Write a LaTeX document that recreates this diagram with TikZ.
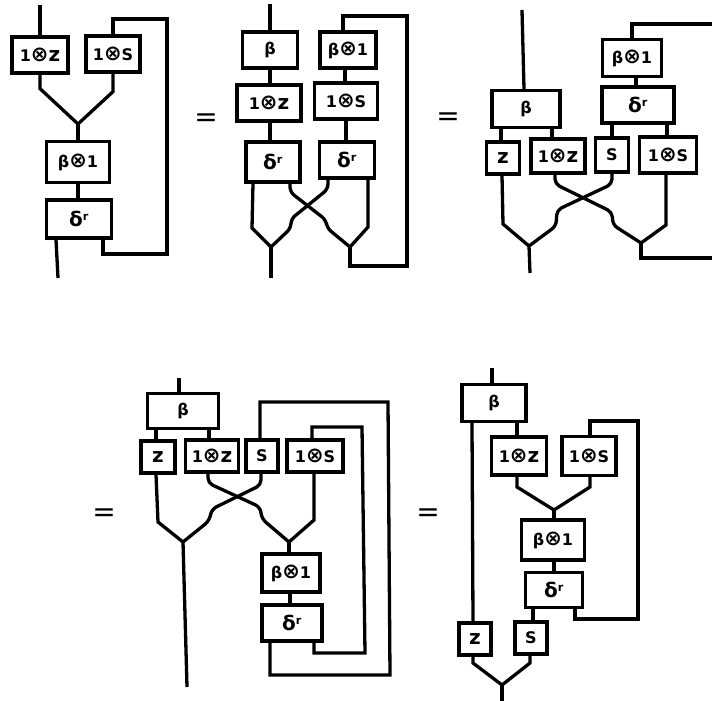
\documentclass[tikz,border=0pt]{standalone}
\usepackage{fontspec}
\setmainfont{DejaVu Sans}
\newcommand{\tens}{{\fontsize{21}{21}\selectfont ⊗}}
\newcommand{\zed}{{\fontsize{20}{20}\selectfont z}}
\newcommand{\dlt}{{\fontsize{20}{20}\selectfont δ}\textsuperscript{r}}
\begin{document}
\begin{tikzpicture}[x=1pt,y=-1pt,
    box/.style={draw, line width=3.3pt, inner sep=0pt, minimum height=36pt, font=\bfseries\fontsize{16}{16}\selectfont},
    wire/.style={line width=3.3pt},
    cross/.style={line width=3.3pt, rounded corners=5pt},
    eq/.style={inner sep=0pt, font=\fontsize{28}{28}\selectfont}]
        \useasboundingbox (0,0) rectangle (712,701);

        \node (onezA) [box, minimum width=56pt] at (40,55) {1\tens\zed};
        \node (oneSA) [box, minimum width=54pt] at (113,54) {1\tens S};
        \node (betaA) [box, minimum width=63pt, minimum height=41pt] at (78,162) {β\tens 1};
        \node (deltaA) [box, minimum width=65pt, minimum height=38pt] at (79,219) {\dlt};
        \coordinate (topA) at (40,5);
        \coordinate (botA) at (58,278);
        \coordinate (mergeA) at (78,124);
        \draw[wire] (topA) -- (onezA.north);
        \draw[wire] (onezA.south) -- ++(0,14) -- (mergeA);
        \draw[wire] (oneSA.south) -- ++(0,18) -- (mergeA);
        \draw[wire] (mergeA) -- (betaA.north);
        \draw[wire] (betaA.south) -- ([xshift=-1pt]deltaA.north);
        \draw[wire] ([xshift=-23pt]deltaA.south) -- (botA);
        \draw[wire] (oneSA.north) -- (113,19) -- (167,19) -- (167,254) -- (103,254) -- ([xshift=24pt]deltaA.south);
        \node (eqA) [eq] at (206,120) {=};

        \node (betaB) [box, minimum width=55pt] at (270,50) {β};
        \node (betatwoB) [box, minimum width=56pt] at (348,50) {β\tens 1};
        \node (onezB) [box, minimum width=64pt] at (269,103) {1\tens\zed};
        \node (oneSB) [box, minimum width=63pt] at (346,101) {1\tens S};
        \node (deltaB) [box, minimum width=54pt, minimum height=40pt] at (273,162) {\dlt};
        \node (deltatwoB) [box, minimum width=55pt] at (347,160) {\dlt};
        \coordinate (topB) at (270,4);
        \coordinate (botB) at (271,278);
        \coordinate (mergeB) at (271,247);
        \coordinate (mergetwoB) at (350,247);
        \draw[wire] (topB) -- (betaB.north);
        \draw[wire] (betaB.south) -- ([xshift=1pt]onezB.north);
        \draw[wire] ([xshift=1pt]onezB.south) -- ([xshift=-3pt]deltaB.north);
        \draw[wire] ([xshift=-3pt]betatwoB.south) -- ([xshift=-1pt]oneSB.north);
        \draw[wire] (oneSB.south) -- ([xshift=-1pt]deltatwoB.north);
        \draw[wire] ([xshift=-20pt]deltaB.south) -- (252,228) -- (mergeB);
        \draw[cross] ([xshift=17pt]deltaB.south) -- (290,192) -- (326,220) -- (327,228) -- (mergetwoB);
        \draw[cross] ([xshift=-19pt]deltatwoB.south) -- (328,189) -- (291,219) -- (291,228) -- (mergeB);
        \draw[wire] ([xshift=21pt]deltatwoB.south) -- (368,227) -- (mergetwoB);
        \draw[wire] (mergeB) -- (botB);
        \draw[wire] ([xshift=-5pt]betatwoB.north) -- (343,16) -- (407,16) -- (407,266) -- (350,266) -- (mergetwoB);
        \node (eqB) [eq] at (448,119) {=};

        \node (betaC) [box, minimum width=68pt, minimum height=37pt] at (526,109) {β};
        \node (zC) [box, minimum width=33pt, minimum height=32pt] at (503,158) {\zed};
        \node (onezC) [box, minimum width=54pt, minimum height=34pt] at (558,156) {1\tens\zed};
        \node (sC) [box, minimum width=33pt, minimum height=34pt] at (612,155) {S};
        \node (oneSC) [box, minimum width=57pt] at (668,155) {1\tens S};
        \node (betatwoC) [box, minimum width=59pt, minimum height=37pt] at (632,58) {β\tens 1};
        \node (deltaC) [box, minimum width=72pt] at (638,105) {\dlt};
        \coordinate (topC) at (522,10);
        \coordinate (botC) at (530,273);
        \coordinate (mergeC) at (529,246);
        \coordinate (mergetwoC) at (641,243);
        \coordinate (outtopC) at (712,24);
        \coordinate (outbotC) at (712,258);
        \draw[wire] (topC) -- ([xshift=-2pt]betaC.north);
        \draw[wire] ([xshift=-25pt]betaC.south) -- ([xshift=-2pt]zC.north);
        \draw[wire] ([xshift=26pt]betaC.south) -- ([xshift=-6pt]onezC.north);
        \draw[wire] ([xshift=4pt]betatwoC.south) -- ([xshift=-2pt]deltaC.north);
        \draw[wire] ([xshift=-26pt]deltaC.south) -- (sC.north);
        \draw[wire] ([xshift=29pt]deltaC.south) -- ([xshift=-1pt]oneSC.north);
        \draw[wire] ([xshift=-1pt]zC.south) -- (503,224) -- (mergeC);
        \draw[cross] ([xshift=-3pt]onezC.south) -- (555,184) -- (612,212) -- (613,225) -- (mergetwoC);
        \draw[cross] (sC.south) -- (612,184) -- (557,210) -- (556,226) -- (mergeC);
        \draw[wire] ([xshift=-2pt]oneSC.south) -- (666,225) -- (mergetwoC);
        \draw[wire] (mergeC) -- (botC);
        \draw[wire] (betatwoC.north) -- (632,24) -- (outtopC);
        \draw[wire] (mergetwoC) -- (641,258) -- (outbotC);

        \node (betaD) [box, minimum width=71pt, minimum height=35pt] at (183,411) {β};
        \node (zD) [box, minimum width=34pt, minimum height=32pt] at (158,457) {\zed};
        \node (onezD) [box, minimum width=53pt, minimum height=32pt] at (212,456) {1\tens\zed};
        \node (sD) [box, minimum width=32pt, minimum height=32pt] at (262,456) {S};
        \node (oneSD) [box, minimum width=56pt, minimum height=32pt] at (315,456) {1\tens S};
        \node (betatwoD) [box, minimum width=58pt, minimum height=38pt] at (291,573) {β\tens 1};
        \node (deltaD) [box, minimum width=60pt] at (292,623) {\dlt};
        \coordinate (topD) at (179,378);
        \coordinate (botD) at (187,687);
        \coordinate (mergeD) at (183,542);
        \coordinate (mergetwoD) at (289,542);
        \draw[wire] (topD) -- ([xshift=-4pt]betaD.north);
        \draw[wire] ([xshift=-27pt]betaD.south) -- ([xshift=-2pt]zD.north);
        \draw[wire] ([xshift=26pt]betaD.south) -- ([xshift=-3pt]onezD.north);
        \draw[wire] ([xshift=-2pt]zD.south) -- (158,522) -- (mergeD);
        \draw[cross] ([xshift=-4pt]onezD.south) -- (208,483) -- (260,507) -- (262,519) -- (mergetwoD);
        \draw[cross] ([xshift=-1pt]sD.south) -- (261,485) -- (212,509) -- (209,521) -- (mergeD);
        \draw[wire] ([xshift=-1pt]oneSD.south) -- (314,520) -- (mergetwoD);
        \draw[wire] (mergeD) -- (botD);
        \draw[wire] (mergetwoD) -- ([xshift=-2pt]betatwoD.north);
        \draw[wire] ([xshift=-1pt]betatwoD.south) -- ([xshift=-2pt]deltaD.north);
        \draw[wire] ([xshift=-2pt]sD.north) -- (260,402) -- (388,402) -- (390,675) -- (270,675) -- ([xshift=-22pt]deltaD.south);
        \draw[wire] ([xshift=-3pt]oneSD.north) -- (312,427) -- (362,427) -- (365,653) -- (314,653) -- ([xshift=22pt]deltaD.south);
        \node (eqD) [eq] at (104,515) {=};

        \node (betaE) [box, minimum width=64pt, minimum height=37pt] at (494,403) {β};
        \node (onezE) [box, minimum width=55pt, minimum height=38pt] at (519,456) {1\tens\zed};
        \node (oneSE) [box, minimum width=54pt, minimum height=39pt] at (589,456) {1\tens S};
        \node (betatwoE) [box, minimum width=63pt, minimum height=40pt] at (553,540) {β\tens 1};
        \node (deltaE) [box, minimum width=57pt, minimum height=35pt] at (554,590) {\dlt};
        \node (zE) [box, minimum width=32pt, minimum height=32pt] at (475,639) {\zed};
        \node (sE) [box, minimum width=32pt, minimum height=32pt] at (531,638) {S};
        \coordinate (topE) at (492,368);
        \coordinate (botE) at (502,701);
        \coordinate (mergeE) at (502,685);
        \coordinate (mergetwoE) at (554,510);
        \draw[wire] (topE) -- ([xshift=-2pt]betaE.north);
        \draw[wire] ([xshift=-22pt]betaE.south) -- ([xshift=-2pt]zE.north);
        \draw[wire] ([xshift=23pt]betaE.south) -- ([xshift=-2pt]onezE.north);
        \draw[wire] ([xshift=-2pt]onezE.south) -- (517,487) -- (mergetwoE);
        \draw[wire] ([xshift=1pt]oneSE.south) -- (590,487) -- (mergetwoE);
        \draw[wire] (mergetwoE) -- ([xshift=1pt]betatwoE.north);
        \draw[wire] ([xshift=1pt]betatwoE.south) -- (deltaE.north);
        \draw[wire] ([xshift=-21pt]deltaE.south) -- ([xshift=2pt]sE.north);
        \draw[wire] ([xshift=1pt]oneSE.north) -- (590,421) -- (638,421) -- (638,619) -- (575,619) -- ([xshift=21pt]deltaE.south);
        \draw[wire] ([xshift=-2pt]zE.south) -- (473,663) -- (mergeE);
        \draw[wire] ([xshift=-1pt]sE.south) -- (530,663) -- (mergeE);
        \draw[wire] (mergeE) -- (botE);
        \node (eqE) [eq] at (428,515) {=};
    \end{tikzpicture}
\end{document}
